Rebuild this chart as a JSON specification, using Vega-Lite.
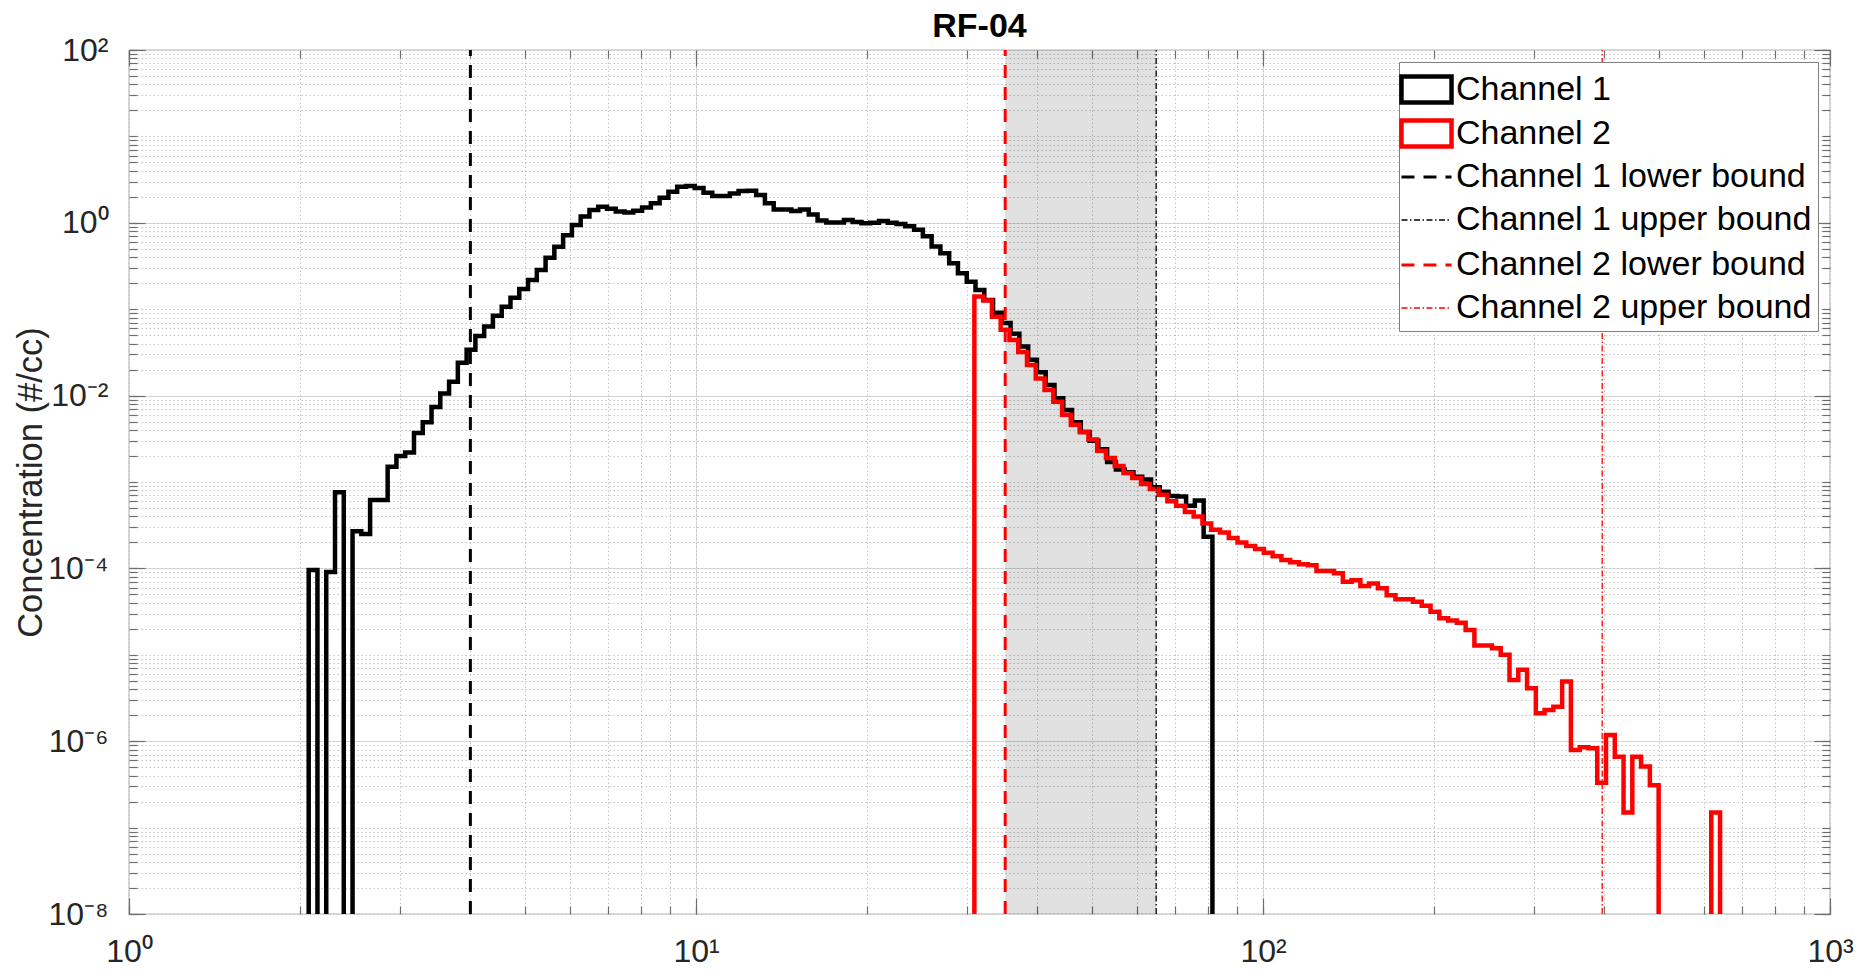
{
  "$schema": "https://vega.github.io/schema/vega-lite/v6.json",
  "width": 1701,
  "height": 864,
  "autosize": {"type": "none"},
  "padding": {"left": 129, "top": 50, "right": 37, "bottom": 59},
  "background": "white",
  "title": {"text": "RF-04", "font": "Liberation Sans", "fontSize": 34, "fontWeight": "bold", "color": "#000000", "anchor": "middle", "offset": -10},
  "config": {
    "view": {"stroke": "#6e6e6e", "strokeWidth": 1.2},
    "font": "Liberation Sans",
    "axis": {"labelFont": "Liberation Sans", "labelFontSize": 32, "labelColor": "#262626", "tickColor": "#6e6e6e", "tickWidth": 1.2, "domain": false, "titleFont": "Liberation Sans", "labelFlush": false, "labelOverlap": false, "labelBound": false}
  },
  "datasets": {
    "ch1": [
      {"series": "Channel 1", "i": 0, "d": 2.0745, "c": 1e-9},
      {"series": "Channel 1", "i": 1, "d": 2.0745, "c": 9.6e-5},
      {"series": "Channel 1", "i": 2, "d": 2.1497, "c": 1e-9},
      {"series": "Channel 1", "i": 3, "d": 2.2277, "c": 9.1e-5},
      {"series": "Channel 1", "i": 4, "d": 2.3085, "c": 7.6e-4},
      {"series": "Channel 1", "i": 5, "d": 2.3922, "c": 1e-9},
      {"series": "Channel 1", "i": 6, "d": 2.479, "c": 2.7e-4},
      {"series": "Channel 1", "i": 7, "d": 2.5689, "c": 2.5e-4},
      {"series": "Channel 1", "i": 8, "d": 2.6621, "c": 6.2e-4},
      {"series": "Channel 1", "i": 9, "d": 2.7587, "c": 6.2e-4},
      {"series": "Channel 1", "i": 10, "d": 2.8588, "c": 1.5e-3},
      {"series": "Channel 1", "i": 11, "d": 2.9625, "c": 2.0e-3},
      {"series": "Channel 1", "i": 12, "d": 3.0699, "c": 2.2e-3},
      {"series": "Channel 1", "i": 13, "d": 3.1812, "c": 3.7e-3},
      {"series": "Channel 1", "i": 14, "d": 3.2966, "c": 4.9e-3},
      {"series": "Channel 1", "i": 15, "d": 3.4162, "c": 7.4e-3},
      {"series": "Channel 1", "i": 16, "d": 3.5401, "c": 0.0106},
      {"series": "Channel 1", "i": 17, "d": 3.6685, "c": 0.0145},
      {"series": "Channel 1", "i": 18, "d": 3.8016, "c": 0.024},
      {"series": "Channel 1", "i": 19, "d": 3.9395, "c": 0.034},
      {"series": "Channel 1", "i": 20, "d": 4.0824, "c": 0.049},
      {"series": "Channel 1", "i": 21, "d": 4.2305, "c": 0.063},
      {"series": "Channel 1", "i": 22, "d": 4.3839, "c": 0.084},
      {"series": "Channel 1", "i": 23, "d": 4.5429, "c": 0.107},
      {"series": "Channel 1", "i": 24, "d": 4.7077, "c": 0.136},
      {"series": "Channel 1", "i": 25, "d": 4.8785, "c": 0.171},
      {"series": "Channel 1", "i": 26, "d": 5.0554, "c": 0.218},
      {"series": "Channel 1", "i": 27, "d": 5.2388, "c": 0.284},
      {"series": "Channel 1", "i": 28, "d": 5.4288, "c": 0.394},
      {"series": "Channel 1", "i": 29, "d": 5.6257, "c": 0.528},
      {"series": "Channel 1", "i": 30, "d": 5.8298, "c": 0.72},
      {"series": "Channel 1", "i": 31, "d": 6.0413, "c": 0.94},
      {"series": "Channel 1", "i": 32, "d": 6.2604, "c": 1.18},
      {"series": "Channel 1", "i": 33, "d": 6.4875, "c": 1.41},
      {"series": "Channel 1", "i": 34, "d": 6.7228, "c": 1.53},
      {"series": "Channel 1", "i": 35, "d": 6.9666, "c": 1.45},
      {"series": "Channel 1", "i": 36, "d": 7.2193, "c": 1.35},
      {"series": "Channel 1", "i": 37, "d": 7.4812, "c": 1.32},
      {"series": "Channel 1", "i": 38, "d": 7.7526, "c": 1.38},
      {"series": "Channel 1", "i": 39, "d": 8.0338, "c": 1.5},
      {"series": "Channel 1", "i": 40, "d": 8.3252, "c": 1.68},
      {"series": "Channel 1", "i": 41, "d": 8.6272, "c": 1.95},
      {"series": "Channel 1", "i": 42, "d": 8.9401, "c": 2.29},
      {"series": "Channel 1", "i": 43, "d": 9.2644, "c": 2.62},
      {"series": "Channel 1", "i": 44, "d": 9.6005, "c": 2.67},
      {"series": "Channel 1", "i": 45, "d": 9.9487, "c": 2.53},
      {"series": "Channel 1", "i": 46, "d": 10.3096, "c": 2.23},
      {"series": "Channel 1", "i": 47, "d": 10.6836, "c": 2.04},
      {"series": "Channel 1", "i": 48, "d": 11.0711, "c": 2.04},
      {"series": "Channel 1", "i": 49, "d": 11.4727, "c": 2.19},
      {"series": "Channel 1", "i": 50, "d": 11.8889, "c": 2.33},
      {"series": "Channel 1", "i": 51, "d": 12.3201, "c": 2.35},
      {"series": "Channel 1", "i": 52, "d": 12.767, "c": 2.1},
      {"series": "Channel 1", "i": 53, "d": 13.2301, "c": 1.68},
      {"series": "Channel 1", "i": 54, "d": 13.71, "c": 1.43},
      {"series": "Channel 1", "i": 55, "d": 14.2073, "c": 1.43},
      {"series": "Channel 1", "i": 56, "d": 14.7227, "c": 1.37},
      {"series": "Channel 1", "i": 57, "d": 15.2567, "c": 1.43},
      {"series": "Channel 1", "i": 58, "d": 15.8101, "c": 1.25},
      {"series": "Channel 1", "i": 59, "d": 16.3836, "c": 1.06},
      {"series": "Channel 1", "i": 60, "d": 16.9779, "c": 1.01},
      {"series": "Channel 1", "i": 61, "d": 17.5938, "c": 1.01},
      {"series": "Channel 1", "i": 62, "d": 18.232, "c": 1.08},
      {"series": "Channel 1", "i": 63, "d": 18.8933, "c": 1.02},
      {"series": "Channel 1", "i": 64, "d": 19.5786, "c": 0.985},
      {"series": "Channel 1", "i": 65, "d": 20.2888, "c": 1.0},
      {"series": "Channel 1", "i": 66, "d": 21.0248, "c": 1.05},
      {"series": "Channel 1", "i": 67, "d": 21.7875, "c": 1.0},
      {"series": "Channel 1", "i": 68, "d": 22.5778, "c": 0.97},
      {"series": "Channel 1", "i": 69, "d": 23.3968, "c": 0.91},
      {"series": "Channel 1", "i": 70, "d": 24.2455, "c": 0.83},
      {"series": "Channel 1", "i": 71, "d": 25.125, "c": 0.7},
      {"series": "Channel 1", "i": 72, "d": 26.0364, "c": 0.53},
      {"series": "Channel 1", "i": 73, "d": 26.9808, "c": 0.443},
      {"series": "Channel 1", "i": 74, "d": 27.9595, "c": 0.34},
      {"series": "Channel 1", "i": 75, "d": 28.9737, "c": 0.26},
      {"series": "Channel 1", "i": 76, "d": 30.0247, "c": 0.208},
      {"series": "Channel 1", "i": 77, "d": 31.1138, "c": 0.167},
      {"series": "Channel 1", "i": 78, "d": 32.2424, "c": 0.128},
      {"series": "Channel 1", "i": 79, "d": 33.412, "c": 0.091},
      {"series": "Channel 1", "i": 80, "d": 34.624, "c": 0.069},
      {"series": "Channel 1", "i": 81, "d": 35.88, "c": 0.052},
      {"series": "Channel 1", "i": 82, "d": 37.1815, "c": 0.037},
      {"series": "Channel 1", "i": 83, "d": 38.5302, "c": 0.026},
      {"series": "Channel 1", "i": 84, "d": 39.9279, "c": 0.0186},
      {"series": "Channel 1", "i": 85, "d": 41.3763, "c": 0.0133},
      {"series": "Channel 1", "i": 86, "d": 42.8772, "c": 0.0093},
      {"series": "Channel 1", "i": 87, "d": 44.4325, "c": 0.0068},
      {"series": "Channel 1", "i": 88, "d": 46.0443, "c": 0.0049},
      {"series": "Channel 1", "i": 89, "d": 47.7145, "c": 0.0038},
      {"series": "Channel 1", "i": 90, "d": 49.4453, "c": 0.003},
      {"series": "Channel 1", "i": 91, "d": 51.2389, "c": 0.0024},
      {"series": "Channel 1", "i": 92, "d": 53.0976, "c": 0.0017},
      {"series": "Channel 1", "i": 93, "d": 55.0237, "c": 0.0014},
      {"series": "Channel 1", "i": 94, "d": 57.0197, "c": 0.0013},
      {"series": "Channel 1", "i": 95, "d": 59.088, "c": 0.00115},
      {"series": "Channel 1", "i": 96, "d": 61.2314, "c": 0.00107},
      {"series": "Channel 1", "i": 97, "d": 63.4526, "c": 0.00087},
      {"series": "Channel 1", "i": 98, "d": 65.7543, "c": 0.00077},
      {"series": "Channel 1", "i": 99, "d": 68.1395, "c": 0.00069},
      {"series": "Channel 1", "i": 100, "d": 70.6112, "c": 0.00068},
      {"series": "Channel 1", "i": 101, "d": 73.1726, "c": 0.00053},
      {"series": "Channel 1", "i": 102, "d": 75.827, "c": 0.00061},
      {"series": "Channel 1", "i": 103, "d": 78.5776, "c": 0.000233},
      {"series": "Channel 1", "i": 104, "d": 81.428, "c": 1e-9}
    ],
    "ch2": [
      {"series": "Channel 2", "i": 0, "d": 30.97, "c": 1e-9},
      {"series": "Channel 2", "i": 1, "d": 30.97, "c": 0.14},
      {"series": "Channel 2", "i": 2, "d": 32.093, "c": 0.126},
      {"series": "Channel 2", "i": 3, "d": 33.257, "c": 0.082},
      {"series": "Channel 2", "i": 4, "d": 34.463, "c": 0.058},
      {"series": "Channel 2", "i": 5, "d": 35.713, "c": 0.044},
      {"series": "Channel 2", "i": 6, "d": 37.008, "c": 0.032},
      {"series": "Channel 2", "i": 7, "d": 38.35, "c": 0.0226},
      {"series": "Channel 2", "i": 8, "d": 39.741, "c": 0.0158},
      {"series": "Channel 2", "i": 9, "d": 41.182, "c": 0.0116},
      {"series": "Channel 2", "i": 10, "d": 42.676, "c": 0.0085},
      {"series": "Channel 2", "i": 11, "d": 44.224, "c": 0.006},
      {"series": "Channel 2", "i": 12, "d": 45.828, "c": 0.0046},
      {"series": "Channel 2", "i": 13, "d": 47.49, "c": 0.0038},
      {"series": "Channel 2", "i": 14, "d": 49.212, "c": 0.0031},
      {"series": "Channel 2", "i": 15, "d": 50.997, "c": 0.0023},
      {"series": "Channel 2", "i": 16, "d": 52.847, "c": 0.0019},
      {"series": "Channel 2", "i": 17, "d": 54.764, "c": 0.00153},
      {"series": "Channel 2", "i": 18, "d": 56.75, "c": 0.00127},
      {"series": "Channel 2", "i": 19, "d": 58.808, "c": 0.00111},
      {"series": "Channel 2", "i": 20, "d": 60.941, "c": 0.00095},
      {"series": "Channel 2", "i": 21, "d": 63.151, "c": 0.00083},
      {"series": "Channel 2", "i": 22, "d": 65.441, "c": 0.00071},
      {"series": "Channel 2", "i": 23, "d": 67.815, "c": 0.0006},
      {"series": "Channel 2", "i": 24, "d": 70.275, "c": 0.00053},
      {"series": "Channel 2", "i": 25, "d": 72.824, "c": 0.00045},
      {"series": "Channel 2", "i": 26, "d": 75.465, "c": 0.0004},
      {"series": "Channel 2", "i": 27, "d": 78.202, "c": 0.00033},
      {"series": "Channel 2", "i": 28, "d": 81.038, "c": 0.00028},
      {"series": "Channel 2", "i": 29, "d": 83.977, "c": 0.00026},
      {"series": "Channel 2", "i": 30, "d": 87.023, "c": 0.000225},
      {"series": "Channel 2", "i": 31, "d": 90.179, "c": 0.0002},
      {"series": "Channel 2", "i": 32, "d": 93.45, "c": 0.000182},
      {"series": "Channel 2", "i": 33, "d": 96.839, "c": 0.000168},
      {"series": "Channel 2", "i": 34, "d": 100.35, "c": 0.000152},
      {"series": "Channel 2", "i": 35, "d": 103.99, "c": 0.000138},
      {"series": "Channel 2", "i": 36, "d": 107.76, "c": 0.000125},
      {"series": "Channel 2", "i": 37, "d": 111.67, "c": 0.000118},
      {"series": "Channel 2", "i": 38, "d": 115.72, "c": 0.000112},
      {"series": "Channel 2", "i": 39, "d": 119.92, "c": 0.000109},
      {"series": "Channel 2", "i": 40, "d": 124.27, "c": 9.3e-5},
      {"series": "Channel 2", "i": 41, "d": 128.78, "c": 9.3e-5},
      {"series": "Channel 2", "i": 42, "d": 133.45, "c": 8.8e-5},
      {"series": "Channel 2", "i": 43, "d": 138.29, "c": 7.0e-5},
      {"series": "Channel 2", "i": 44, "d": 143.3, "c": 7.3e-5},
      {"series": "Channel 2", "i": 45, "d": 148.5, "c": 6.25e-5},
      {"series": "Channel 2", "i": 46, "d": 153.89, "c": 6.7e-5},
      {"series": "Channel 2", "i": 47, "d": 159.47, "c": 5.9e-5},
      {"series": "Channel 2", "i": 48, "d": 165.25, "c": 4.9e-5},
      {"series": "Channel 2", "i": 49, "d": 171.24, "c": 4.4e-5},
      {"series": "Channel 2", "i": 50, "d": 177.45, "c": 4.4e-5},
      {"series": "Channel 2", "i": 51, "d": 183.89, "c": 4.1e-5},
      {"series": "Channel 2", "i": 52, "d": 190.56, "c": 3.7e-5},
      {"series": "Channel 2", "i": 53, "d": 197.47, "c": 3.15e-5},
      {"series": "Channel 2", "i": 54, "d": 204.63, "c": 2.65e-5},
      {"series": "Channel 2", "i": 55, "d": 212.05, "c": 2.5e-5},
      {"series": "Channel 2", "i": 56, "d": 219.74, "c": 2.35e-5},
      {"series": "Channel 2", "i": 57, "d": 227.71, "c": 1.94e-5},
      {"series": "Channel 2", "i": 58, "d": 235.97, "c": 1.28e-5},
      {"series": "Channel 2", "i": 59, "d": 244.53, "c": 1.28e-5},
      {"series": "Channel 2", "i": 60, "d": 253.4, "c": 1.19e-5},
      {"series": "Channel 2", "i": 61, "d": 262.59, "c": 1.0e-5},
      {"series": "Channel 2", "i": 62, "d": 272.11, "c": 5.1e-6},
      {"series": "Channel 2", "i": 63, "d": 281.98, "c": 6.7e-6},
      {"series": "Channel 2", "i": 64, "d": 292.21, "c": 4.1e-6},
      {"series": "Channel 2", "i": 65, "d": 302.81, "c": 2.1e-6},
      {"series": "Channel 2", "i": 66, "d": 313.79, "c": 2.3e-6},
      {"series": "Channel 2", "i": 67, "d": 325.17, "c": 2.5e-6},
      {"series": "Channel 2", "i": 68, "d": 336.96, "c": 4.9e-6},
      {"series": "Channel 2", "i": 69, "d": 349.18, "c": 7.9e-7},
      {"series": "Channel 2", "i": 70, "d": 361.85, "c": 8.5e-7},
      {"series": "Channel 2", "i": 71, "d": 374.97, "c": 8.3e-7},
      {"series": "Channel 2", "i": 72, "d": 388.57, "c": 3.3e-7},
      {"series": "Channel 2", "i": 73, "d": 402.66, "c": 1.18e-6},
      {"series": "Channel 2", "i": 74, "d": 417.27, "c": 6.6e-7},
      {"series": "Channel 2", "i": 75, "d": 432.4, "c": 1.5e-7},
      {"series": "Channel 2", "i": 76, "d": 448.08, "c": 6.6e-7},
      {"series": "Channel 2", "i": 77, "d": 464.33, "c": 5.1e-7},
      {"series": "Channel 2", "i": 78, "d": 481.17, "c": 3.1e-7},
      {"series": "Channel 2", "i": 79, "d": 498.62, "c": 1e-9},
      {"series": "Channel 2", "i": 80, "d": 516.71, "c": 1e-9},
      {"series": "Channel 2", "i": 81, "d": 535.45, "c": 1e-9},
      {"series": "Channel 2", "i": 82, "d": 554.87, "c": 1e-9},
      {"series": "Channel 2", "i": 83, "d": 575.0, "c": 1e-9},
      {"series": "Channel 2", "i": 84, "d": 595.85, "c": 1e-9},
      {"series": "Channel 2", "i": 85, "d": 617.46, "c": 1.5e-7},
      {"series": "Channel 2", "i": 86, "d": 639.86, "c": 1e-9}
    ],
    "bounds": [
      {"series": "Channel 1 lower bound", "d": 4.0, "ylo": 1e-8, "yhi": 100},
      {"series": "Channel 1 upper bound", "d": 64.8, "ylo": 1e-8, "yhi": 100},
      {"series": "Channel 2 lower bound", "d": 35.1, "ylo": 1e-8, "yhi": 100},
      {"series": "Channel 2 upper bound", "d": 396.5, "ylo": 1e-8, "yhi": 100}
    ],
    "band": [
      {"lo": 35.1, "hi": 64.8, "ylo": 1e-8, "yhi": 100}
    ]
  },
  "resolve": {"axis": {"x": "independent", "y": "independent"}},
  "layer": [
    {
      "data": {"name": "band"},
      "mark": {"type": "rect", "color": "#000000", "opacity": 0.12},
      "encoding": {
        "x": {"field": "lo", "type": "quantitative", "scale": {"type": "log", "domain": [1, 1000], "nice": false},
          "axis": {"orient": "top", "values": [1,2,3,4,5,6,7,8,9,10,20,30,40,50,60,70,80,90,100,200,300,400,500,600,700,800,900,1000], "grid": false, "labels": false, "tickSize": -8, "title": null}},
        "x2": {"field": "hi"},
        "y": {"field": "ylo", "type": "quantitative", "scale": {"type": "log", "domain": [1e-8, 100], "nice": false},
          "axis": {"orient": "right", "values": [1e-8,2e-8,3e-8,4e-8,5e-8,6e-8,7e-8,8e-8,9e-8,1e-7,2e-7,3e-7,4e-7,5e-7,6e-7,7e-7,8e-7,9e-7,1e-6,2e-6,3e-6,4e-6,5e-6,6e-6,7e-6,8e-6,9e-6,1e-5,2e-5,3e-5,4e-5,5e-5,6e-5,7e-5,8e-5,9e-5,1e-4,2e-4,3e-4,4e-4,5e-4,6e-4,7e-4,8e-4,9e-4,0.001,0.002,0.003,0.004,0.005,0.006,0.007,0.008,0.009,0.01,0.02,0.03,0.04,0.05,0.06,0.07,0.08,0.09,0.1,0.2,0.3,0.4,0.5,0.6,0.7,0.8,0.9,1,2,3,4,5,6,7,8,9,10,20,30,40,50,60,70,80,90,100], "grid": false, "labels": false, "tickSize": -8, "title": null}},
        "y2": {"field": "yhi"}
      }
    },
    {
      "data": {"name": "ch1"},
      "mark": {"type": "line", "interpolate": "step-after", "clip": true, "strokeJoin": "miter"},
      "encoding": {
        "x": {"field": "d", "type": "quantitative", "scale": {"type": "log", "domain": [1, 1000], "nice": false},
          "axis": {"orient": "bottom", "values": [1, 10, 100, 1000], "grid": true, "gridColor": "#dcdcdc", "gridWidth": 1, "tickSize": -16, "labelPadding": 38, "labelExpr": "'10' + (round(log(datum.value)/LN10) < 0 ? '⁻' : '') + ['⁰','¹','²','³','⁴','⁵','⁶','⁷','⁸','⁹'][abs(round(log(datum.value)/LN10))]", "title": null}},
        "y": {"field": "c", "type": "quantitative", "scale": {"type": "log", "domain": [1e-8, 100], "nice": false},
          "axis": {"orient": "left", "values": [1e-8, 1e-6, 1e-4, 1e-2, 1, 100], "grid": true, "gridColor": "#dcdcdc", "gridWidth": 1, "tickSize": -16, "labelPadding": 37, "labelExpr": "'10' + (round(log(datum.value)/LN10) < 0 ? '⁻' : '') + ['⁰','¹','²','³','⁴','⁵','⁶','⁷','⁸','⁹'][abs(round(log(datum.value)/LN10))]", "title": "Concentration (#/cc)", "titleFontSize": 34.5, "titleFontWeight": "normal", "titleColor": "#262626", "titlePadding": -1}},
        "order": {"field": "i", "type": "quantitative"},
        "color": {"field": "series", "type": "nominal",
          "scale": {"domain": ["Channel 1", "Channel 2", "Channel 1 lower bound", "Channel 1 upper bound", "Channel 2 lower bound", "Channel 2 upper bound"], "range": ["#000000", "#ff0000", "#000000", "#000000", "#ff0000", "#ff0000"]},
          "legend": {"title": null, "orient": "top-right", "offset": 12, "labelFont": "Liberation Sans", "labelFontSize": 34, "labelColor": "#000000", "symbolSize": 1482, "labelOffset": 8, "padding": 6, "rowPadding": -1.5, "gridAlign": "all", "fillColor": "#ffffff", "strokeColor": "#808080", "labelLimit": 900, "symbolType": "stroke",
            "encode": {"symbols": {"update": {"shape": {"signal": "(datum.value === 'Channel 1' || datum.value === 'Channel 2') ? 'M-1.3,-0.68H1.3V0.68H-1.3Z' : 'M-1.3,-0.68M-1.3,0.68M-1.3,0H1.3'"}, "fill": {"value": "transparent"}}}}}},
        "strokeDash": {"field": "series", "type": "nominal",
          "scale": {"domain": ["Channel 1", "Channel 2", "Channel 1 lower bound", "Channel 1 upper bound", "Channel 2 lower bound", "Channel 2 upper bound"], "range": [[1, 0], [1, 0], [13, 9], [6, 2.5, 1.5, 2.5], [13, 9], [6, 2.5, 1.5, 2.5]]},
          "legend": {"title": null, "orient": "top-right", "offset": 12, "labelFont": "Liberation Sans", "labelFontSize": 34, "labelColor": "#000000", "symbolSize": 1482, "labelOffset": 8, "padding": 6, "rowPadding": -1.5, "gridAlign": "all", "fillColor": "#ffffff", "strokeColor": "#808080", "labelLimit": 900, "symbolType": "stroke"}},
        "strokeWidth": {"field": "series", "type": "nominal",
          "scale": {"type": "ordinal", "domain": ["Channel 1", "Channel 2", "Channel 1 lower bound", "Channel 1 upper bound", "Channel 2 lower bound", "Channel 2 upper bound"], "range": [4.5, 4.5, 3, 1.3, 3, 1.3]},
          "legend": {"title": null, "orient": "top-right", "offset": 12, "labelFont": "Liberation Sans", "labelFontSize": 34, "labelColor": "#000000", "symbolSize": 1482, "labelOffset": 8, "padding": 6, "rowPadding": -1.5, "gridAlign": "all", "fillColor": "#ffffff", "strokeColor": "#808080", "labelLimit": 900, "symbolType": "stroke"}}
      }
    },
    {
      "data": {"name": "ch2"},
      "mark": {"type": "line", "interpolate": "step-after", "clip": true, "strokeJoin": "miter"},
      "encoding": {
        "x": {"field": "d", "type": "quantitative", "scale": {"type": "log", "domain": [1, 1000], "nice": false},
          "axis": {"orient": "top", "values": [1, 10, 100, 1000], "grid": false, "labels": false, "tickSize": -16, "title": null}},
        "y": {"field": "c", "type": "quantitative", "scale": {"type": "log", "domain": [1e-8, 100], "nice": false},
          "axis": {"orient": "right", "values": [1e-8, 1e-6, 1e-4, 1e-2, 1, 100], "grid": false, "labels": false, "tickSize": -16, "title": null}},
        "order": {"field": "i", "type": "quantitative"},
        "color": {"field": "series", "type": "nominal",
          "scale": {"domain": ["Channel 1", "Channel 2", "Channel 1 lower bound", "Channel 1 upper bound", "Channel 2 lower bound", "Channel 2 upper bound"], "range": ["#000000", "#ff0000", "#000000", "#000000", "#ff0000", "#ff0000"]}},
        "strokeDash": {"field": "series", "type": "nominal",
          "scale": {"domain": ["Channel 1", "Channel 2", "Channel 1 lower bound", "Channel 1 upper bound", "Channel 2 lower bound", "Channel 2 upper bound"], "range": [[1, 0], [1, 0], [13, 9], [6, 2.5, 1.5, 2.5], [13, 9], [6, 2.5, 1.5, 2.5]]}},
        "strokeWidth": {"field": "series", "type": "nominal",
          "scale": {"type": "ordinal", "domain": ["Channel 1", "Channel 2", "Channel 1 lower bound", "Channel 1 upper bound", "Channel 2 lower bound", "Channel 2 upper bound"], "range": [4.5, 4.5, 3, 1.3, 3, 1.3]}}
      }
    },
    {
      "data": {"name": "bounds"},
      "mark": {"type": "rule", "clip": true},
      "encoding": {
        "x": {"field": "d", "type": "quantitative", "scale": {"type": "log", "domain": [1, 1000], "nice": false},
          "axis": {"orient": "bottom", "values": [1,2,3,4,5,6,7,8,9,10,20,30,40,50,60,70,80,90,100,200,300,400,500,600,700,800,900,1000], "grid": true, "gridColor": "#c4c4c4", "gridDash": [1.5, 2.5], "gridWidth": 1, "labels": false, "tickSize": -8, "title": null}},
        "y": {"field": "ylo", "type": "quantitative", "scale": {"type": "log", "domain": [1e-8, 100], "nice": false},
          "axis": {"orient": "left", "values": [1e-8,2e-8,3e-8,4e-8,5e-8,6e-8,7e-8,8e-8,9e-8,1e-7,2e-7,3e-7,4e-7,5e-7,6e-7,7e-7,8e-7,9e-7,1e-6,2e-6,3e-6,4e-6,5e-6,6e-6,7e-6,8e-6,9e-6,1e-5,2e-5,3e-5,4e-5,5e-5,6e-5,7e-5,8e-5,9e-5,1e-4,2e-4,3e-4,4e-4,5e-4,6e-4,7e-4,8e-4,9e-4,0.001,0.002,0.003,0.004,0.005,0.006,0.007,0.008,0.009,0.01,0.02,0.03,0.04,0.05,0.06,0.07,0.08,0.09,0.1,0.2,0.3,0.4,0.5,0.6,0.7,0.8,0.9,1,2,3,4,5,6,7,8,9,10,20,30,40,50,60,70,80,90,100], "grid": true, "gridColor": "#c4c4c4", "gridDash": [1.5, 2.5], "gridWidth": 1, "labels": false, "tickSize": -8, "title": null}},
        "y2": {"field": "yhi"},
        "color": {"field": "series", "type": "nominal",
          "scale": {"domain": ["Channel 1", "Channel 2", "Channel 1 lower bound", "Channel 1 upper bound", "Channel 2 lower bound", "Channel 2 upper bound"], "range": ["#000000", "#ff0000", "#000000", "#000000", "#ff0000", "#ff0000"]}},
        "strokeDash": {"field": "series", "type": "nominal",
          "scale": {"domain": ["Channel 1", "Channel 2", "Channel 1 lower bound", "Channel 1 upper bound", "Channel 2 lower bound", "Channel 2 upper bound"], "range": [[1, 0], [1, 0], [13, 9], [6, 2.5, 1.5, 2.5], [13, 9], [6, 2.5, 1.5, 2.5]]}},
        "strokeWidth": {"field": "series", "type": "nominal",
          "scale": {"type": "ordinal", "domain": ["Channel 1", "Channel 2", "Channel 1 lower bound", "Channel 1 upper bound", "Channel 2 lower bound", "Channel 2 upper bound"], "range": [4.5, 4.5, 3, 1.3, 3, 1.3]}}
      }
    }
  ]
}
